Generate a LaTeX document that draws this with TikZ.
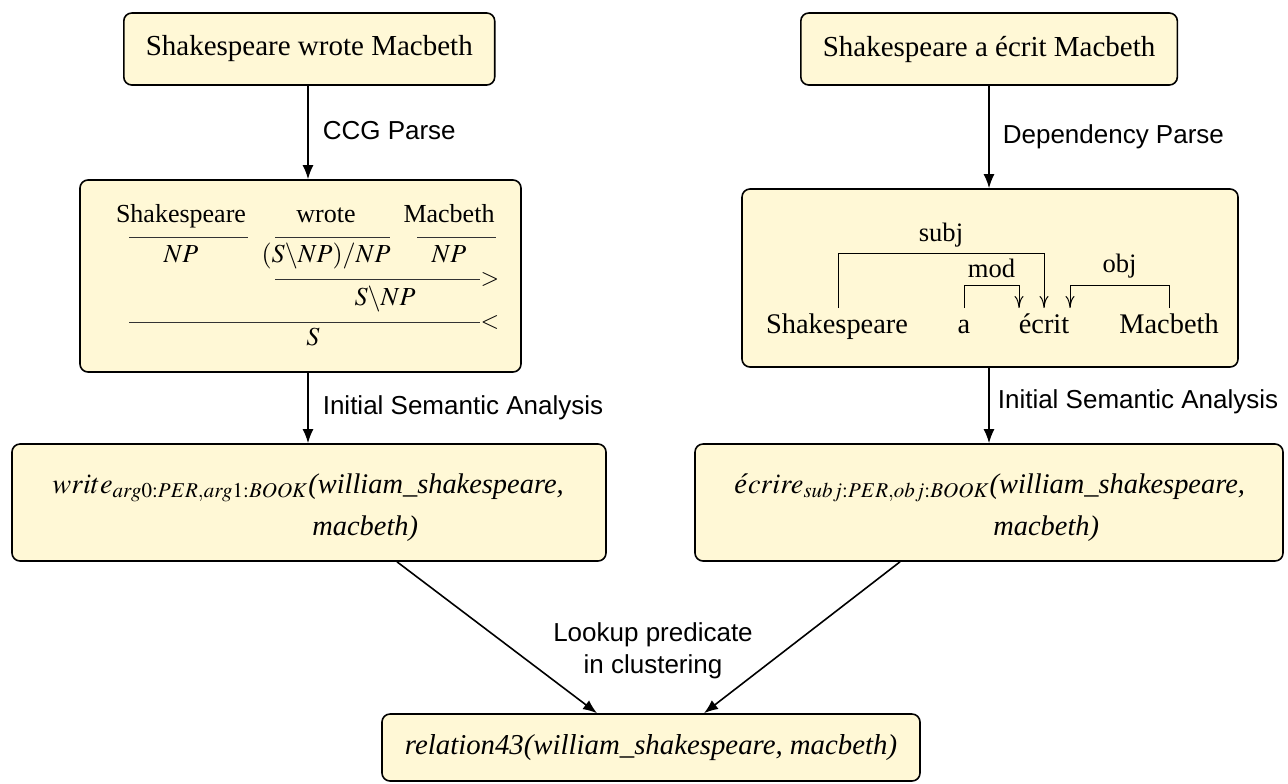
\documentclass[tikz,border=0pt]{standalone}
\usepackage{mathptmx}
\usepackage{fontspec}
\setmainfont{Liberation Serif}
\setsansfont{Liberation Sans}
\usetikzlibrary{arrows.meta,calc}
\definecolor{boxfill}{RGB}{255,248,214}
\tikzset{
  box/.style={draw=black, fill=boxfill, rounded corners=4pt, line width=0.8pt},
  flow/.style={-{Latex[length=7pt,width=5.5pt]}, line width=0.8pt},
  lbl/.style={font=\sffamily\fontsize{13}{16}\selectfont, inner sep=0pt},
  word/.style={anchor=base, inner sep=0pt, font=\rmfamily\fontsize{13}{15}\selectfont},
  dword/.style={anchor=base, inner sep=0pt, font=\rmfamily\fontsize{14.2}{17}\selectfont},
  dlab/.style={anchor=base, inner sep=0pt, font=\rmfamily\fontsize{13.3}{16}\selectfont},
  rulel/.style={line width=0.5pt, draw=black!80},
  dep/.style={line width=0.5pt, -{To[length=6pt,width=4.5pt]}},
  sem/.style={anchor=base west, inner sep=0pt, font=\rmfamily\fontsize{14.2}{17}\selectfont},
  big/.style={font=\rmfamily\fontsize{14.5}{17}\selectfont}
}
\begin{document}
\begin{tikzpicture}[x=0.5pt,y=-0.5pt]
\useasboundingbox (0,0) rectangle (1288,783);
\coordinate (lx) at (308,0);
\coordinate (rx) at (989,0);

% top boxes
\node[box, big, anchor=west, minimum height=36pt, inner xsep=11pt] (A) at (123,49) {Shakespeare wrote Macbeth};
\node[box, big, anchor=west, minimum height=36pt, inner xsep=11pt] (B) at (800,49) {Shakespeare a écrit Macbeth};

% parse boxes
\node[box, minimum width=220.5pt, minimum height=96pt] (C) at (300.5,276) {};
\node[box, minimum width=248pt, minimum height=89pt] (D) at (990,278) {};

% semantic boxes
\node[box, minimum width=297pt, minimum height=58.5pt] (E) at (309,502.5) {};
\node[box, minimum width=294pt, minimum height=58.5pt] (F) at (989,502.5) {};

% result box
\node[box, minimum width=269pt, minimum height=33.5pt, font=\rmfamily\fontsize{14.4}{17}\selectfont] (G) at (651,747.5) {\textit{relation43(william\_shakespeare, macbeth)}};

% CCG derivation
\node[word] (cw1) at (181,222) {Shakespeare};
\node[word] (cw2) at (326,222) {wrote};
\node[word] (cw3) at (449,222) {Macbeth};
\draw[rulel] (129,237) -- (248,237);
\draw[rulel] (275,237) -- (390,237);
\draw[rulel] (417,237) -- (496,237);
\node[word] (cc1) at (181,262) {$NP$};
\node[word] (cc2) at (326,262) {$(S\backslash NP)/NP$};
\node[word] (cc3) at (449,262) {$NP$};
\draw[rulel] (275,279) -- (480,279) node[anchor=west, inner sep=0pt, font=\fontsize{12}{14}\selectfont] (fa) {$>$};
\node[word] (cc4) at (385,305) {$S\backslash NP$};
\draw[rulel] (129,322) -- (480,322) node[anchor=west, inner sep=0pt, font=\fontsize{12}{14}\selectfont] (ba) {$<$};
\node[word] (cc5) at (313,345) {$S$};

% dependency parse
\node[dword] (dw1) at (837,333) {Shakespeare};
\node[dword] (dw2) at (964,333) {a};
\node[dword] (dw3) at (1044,333) {écrit};
\node[dword] (dw4) at (1169,333) {Macbeth};
\draw[dep] ($(dw1.base)+(1,-25)$) -- ++(0,-55) -| node[pos=0.25, dlab, yshift=6pt] (lsubj) {subj} ($(dw3.base)+(0,-25)$);
\draw[dep] ($(dw2.base)+(0,-25)$) -- ++(0,-23) -| node[pos=0.25, dlab, yshift=4pt] (lmod) {mod} ($(dw3.base)+(-25,-25)$);
\draw[dep] ($(dw4.base)+(0,-25)$) -- ++(0,-23) -| node[pos=0.25, dlab, yshift=6.5pt] (lobj) {obj} ($(dw3.base)+(26,-25)$);

% semantic forms
\node[sem] (sw1) at (52,493) {$write_{arg0:PER,arg1:BOOK}$\textit{(william\_shakespeare,}};
\node[sem] (sw2) at (312,535) {\textit{macbeth)}};
\node[sem] (sf1) at (734,493) {\textit{é}$crire_{subj:PER,obj:BOOK}$\textit{(william\_shakespeare,}};
\node[sem] (sf2) at (993,535) {\textit{macbeth)}};

% arrows
\draw[flow] (A.south -| lx) -- node[lbl, anchor=west, xshift=7pt, yshift=1pt] (l1) {CCG Parse} (C.north -| lx);
\draw[flow] (B.south -| rx) -- node[lbl, anchor=west, xshift=6.5pt] (l2) {Dependency Parse} (D.north -| rx);
\draw[flow] (C.south -| lx) -- node[lbl, anchor=west, xshift=7pt] (l3) {Initial Semantic Analysis} (E.north -| lx);
\draw[flow] (D.south -| rx) -- node[lbl, anchor=west, xshift=4pt, yshift=2pt] (l4) {Initial Semantic Analysis} (F.north -| rx);
\draw[flow] ($(E.south)+(88,0)$) -- ($(G.north)+(-54,0)$);
\draw[flow] ($(F.south)+(-89,0)$) -- ($(G.north)+(53,0)$);
\node[lbl, align=center] (L) at (653,651) {Lookup predicate\\in clustering};
\end{tikzpicture}
\end{document}
